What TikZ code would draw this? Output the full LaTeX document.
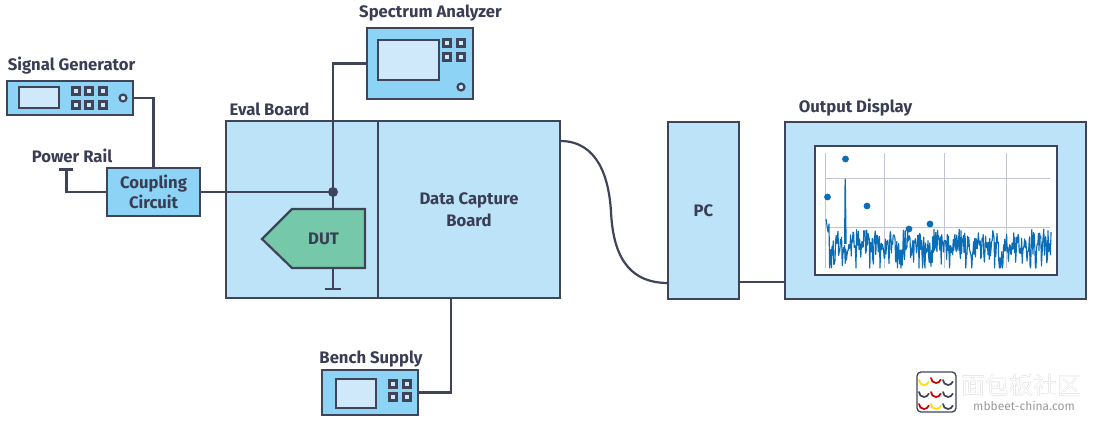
\documentclass[tikz,border=0pt]{standalone}
\usepackage{fontspec}
\setmainfont{Fira Sans}
\newfontfamily\cjkfont{Noto Sans CJK SC}
\definecolor{ink}{HTML}{3F4459}
\definecolor{txt}{HTML}{3A3E54}
\definecolor{panel}{HTML}{BDE3F8}
\definecolor{device}{HTML}{8DD3F6}
\definecolor{glass}{HTML}{CFE9FB}
\definecolor{chip}{HTML}{75C8A9}
\definecolor{trace}{HTML}{0A6EB6}
\definecolor{grid}{HTML}{C4C5D4}
\tikzset{
  wire/.style={draw=ink,line width=1.65pt},
  block/.style={draw=ink,line width=1.65pt,fill=#1,inner sep=0pt,outer sep=0pt,align=center,font=\bfseries\fontsize{12.5}{15.4}\selectfont,text=txt},
  tag/.style={inner sep=0pt,font=\bfseries\fontsize{12.5}{15}\selectfont,text=txt},
  knob/.style={draw=ink,line width=1.6pt,fill=glass},
  spot/.style={fill=trace,draw=none},
}
\begin{document}
\begin{tikzpicture}[x=0.75pt,y=-0.75pt]
\useasboundingbox (0,0) rectangle (1094,423);
% main blocks
\node[block=panel,minimum width=114pt,minimum height=132.75pt] (eval) at (302,209.5) {};
\node[block=panel,minimum width=136.5pt,minimum height=132.75pt] (data) at (469,209.5) {Data Capture\\[0.7pt]Board};
\node[block=panel,minimum width=53.25pt,minimum height=132.75pt] (pc) at (703.5,210.5) {PC};
\node[block=panel,minimum width=225.75pt,minimum height=132.75pt] (disp) at (935.5,210.5) {};
\node[block=white,line width=2pt,minimum width=181.5pt,minimum height=96.75pt] (scr) at (936,210.5) {};
\node[block=device,minimum width=69.75pt,minimum height=36pt] (cc) at (153.5,192) {Coupling\\Circuit};
\node[block=device,minimum width=94.5pt,minimum height=25.5pt] (sg) at (70,98) {};
\node[block=device,minimum width=79.5pt,minimum height=53.25pt] (sa) at (420,63.5) {};
\node[block=device,minimum width=72pt,minimum height=33.75pt] (bs) at (370,392.5) {};
% labels
\node[tag] (lsg) at (71.5,65.5) {Signal Generator};
\node[tag] (lpr) at (72,155.5) {Power Rail};
\node[tag] (lev) at (269.5,109.5) {Eval Board};
\node[tag] (lsa) at (430.5,13.5) {Spectrum Analyzer};
\node[tag] (lbs) at (371,359) {Bench Supply};
\node[tag] (lod) at (855.5,107.5) {Output Display};
% device fascias
\draw[knob] (19,87) rectangle (59,108);
\foreach \x in {76,89,103} \foreach \y in {91,105}
  \draw[knob] (\x-3.5,\y-3.5) rectangle (\x+3.5,\y+3.5);
\draw[knob] (123,98) circle (3.5);
\draw[knob] (378,40) rectangle (439,80);
\foreach \x in {447,461} \foreach \y in {43,57}
  \draw[knob] (\x-3.5,\y-3.5) rectangle (\x+3.5,\y+3.5);
\draw[knob] (461,87) circle (3.5);
\draw[knob] (336,379) rectangle (376,408);
\foreach \x in {393,407} \foreach \y in {384,397}
  \draw[knob] (\x-3.5,\y-3.5) rectangle (\x+3.5,\y+3.5);
% device under test
\coordinate (duttop) at (333,209);
\coordinate (dutbot) at (333,268);
\coordinate (gnd) at (333,289);
\coordinate (rail) at (66.5,169.5);
\coordinate (j) at (333,192);
\coordinate (dcbot) at (451,298);
\coordinate (dcout) at (560,141);
\coordinate (bend) at (611,212);
\coordinate (pcin) at (668,283);
\coordinate (pcout) at (739,282);
\coordinate (dispin) at (785,282);
\draw[wire,fill=chip,line join=miter] (365,209) -- (292,209) -- (262,239) -- (292,268) -- (365,268) -- cycle;
\node[tag] (dut) at (323.5,238.5) {DUT};
% connectors
\draw[wire] (sg.east) -| (cc.north);
\draw[wire] (cc.west) -| (rail);
\draw[wire] (59,169.5) -- (rail) -- (73,169.5);
\draw[wire] (cc.east) -- (j);
\draw[wire] (sa.west) -| (j);
\draw[wire] (j) -- (duttop);
\fill[ink] (j) circle (5);
\draw[wire] (dutbot) -- (gnd);
\draw[wire] (325,289) -- (gnd) -- (341,289);
\draw[wire] (bs.east) -| (dcbot);
\draw[wire] (dcout) .. controls (598,141) and (609,178) .. (bend)
  .. controls (613,252) and (626,283) .. (pcin);
\draw[wire] (pcout) -- (dispin);
% spectrum plot
\draw[grid,line width=0.75pt] (825.7,153) -- (825.7,268)
  (884,153) -- (884,268) (944,153) -- (944,268) (1006,153) -- (1006,268)
  (826,179) -- (1050,179) (826,228) -- (1050,228);
\pgfmathsetseed{2207}
\draw[trace,line width=0.85pt,line join=round] (826,219) -- (828,232) -- (829,224)
  \foreach \i in {1,...,370} {
    -- ({829+\i*0.6},{min(268,229+26*rnd+38*pow(rnd,6))})
  };
\draw[trace,line width=1pt] (844.7,244) -- (845.2,179) -- (846,244);
\foreach \x/\y in {845.5/159,827.5/197,867/206,909/229,930/224}
  \fill[spot] (\x,\y) circle (3.4);
% site mark
\draw[draw=ink,line width=1pt,fill=white,rounded corners=3pt] (917,372) rectangle (956,412);
\foreach \x/\y/\c in {924/380/yellow!80!orange,936/378/red!80!black,948/380/ink,924/392/ink,936/392/red!80!black,948/392/ink,924/404/red!80!black,936/404/yellow!80!orange,948/404/ink}
  \draw[\c,line width=1.3pt,line cap=round] (\x-5,\y) arc[start angle=180,end angle=20,radius=5];
\node[inner sep=0pt,font=\cjkfont\fontsize{18}{18}\selectfont,text=black!35] (wmsh) at (1021.6,385.6) {面包板社区};
\node[inner sep=0pt,font=\cjkfont\fontsize{18}{18}\selectfont,text=white] (wm) at (1021,385) {面包板社区};
\node[inner sep=0pt,font=\fontsize{9}{9}\selectfont,text=black!40] (wmurl) at (1024,406) {mbbeet-china.com};
\end{tikzpicture}
\end{document}
